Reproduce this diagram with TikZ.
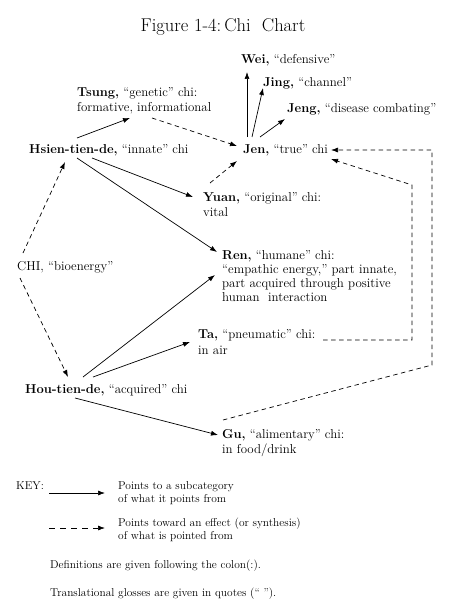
\documentclass[tikz,border=0pt]{standalone}
\usetikzlibrary{arrows.meta}
\newcommand\twoline[3][15pt]{\vtop{\baselineskip=#1\hbox{#2}\hbox{#3}}}
\begin{document}
\begin{tikzpicture}[x=1pt,y=-1pt,
  lbl/.style={anchor=base west,inner sep=0pt,font=\fontsize{12.9}{15}\selectfont},
  keytxt/.style={anchor=base west,inner sep=0pt,font=\fontsize{11.4}{13}\selectfont},
  sol/.style={line width=0.7pt,-{Latex[length=7pt,width=5pt]}},
  dsh/.style={sol,dash pattern=on 4.5pt off 3.5pt}]
\path[use as bounding box] (0,0) rectangle (450,615);
% title
\node[anchor=base,inner sep=0pt,font=\fontsize{18.5}{21}\selectfont] (title) at (223,32) {Figure 1-4:\,Chi\ \ Chart};
% nodes
\node[lbl] (wei) at (241,64) {\textbf{Wei,} “defensive”};
\node[lbl] (jing) at (263,87) {\textbf{Jing,} “channel”};
\node[lbl] (jeng) at (287,113) {\textbf{Jeng,} “disease combating”};
\node[lbl] (jen) at (243,153) {\textbf{Jen,} “true” chi};
\node[lbl] (tsung) at (77,97) {\twoline{\textbf{Tsung,} “genetic” chi:}{formative, informational}};
\node[lbl] (hsien) at (29,153) {\textbf{Hsien-tien-de,} “innate” chi};
\node[lbl] (yuan) at (203,201) {\twoline{\textbf{Yuan,} “original” chi:}{vital}};
\node[lbl] (ren) at (222,259) {\vtop{\baselineskip=14.3pt\hbox{\textbf{Ren,} “humane” chi:}\hbox{“empathic energy,” part innate,}\hbox{part acquired through positive}\hbox{human\ \ interaction}}};
\node[lbl] (chi) at (17,270) {CHI, “bioenergy”};
\node[lbl] (ta) at (198,338) {\twoline[16pt]{\textbf{Ta,} “pneumatic” chi:}{in air}};
\node[lbl] (hou) at (25,393) {\textbf{Hou-tien-de,} “acquired” chi};
\node[lbl] (gu) at (222,438) {\twoline{\textbf{Gu,} “alimentary” chi:}{in food/drink}};
% key
\node[keytxt] (key) at (16,489) {KEY:};
\node[keytxt] (k1) at (118,489) {\twoline[13pt]{Points to a subcategory}{of what it points from}};
\node[keytxt] (k2) at (118,526) {\twoline[13pt]{Points toward an effect (or synthesis)}{of what is pointed from}};
\node[keytxt] (def) at (50,568) {Definitions are given\ following the colon(:).};
\node[keytxt] (trans) at (50,596) {Translational glosses are given\ in quotes (“ ”).};
\coordinate (k1a) at (49,493);
\coordinate (k1b) at (105,493);
\coordinate (k2a) at (49,528);
\coordinate (k2b) at (105,528);
\draw[sol] (k1a) -- (k1b);
\draw[sol,dash pattern=on 6pt off 5pt] (k2a) -- (k2b);
% solid connectors
\draw[sol] ([shift={(48,-15)}]hsien.base west) -- ([shift={(53,21)}]tsung.base west);
\draw[sol] ([shift={(63,5)}]hsien.base west) -- ([shift={(-10,-4)}]yuan.base west);
\draw[sol] ([shift={(48,5)}]hsien.base west) -- ([shift={(-5,-7)}]ren.base west);
\draw[sol] ([shift={(4,-16)}]jen.base west) -- ([shift={(6,8)}]wei.base west);
\draw[sol] ([shift={(9,-16)}]jen.base west) -- ([shift={(0,1)}]jing.base west);
\draw[sol] ([shift={(17,-16)}]jen.base west) -- ([shift={(-2,6)}]jeng.base west);
\draw[sol] ([shift={(58,-16)}]hou.base west) -- ([shift={(-7,16)}]ren.base west);
\draw[sol] ([shift={(68,-16)}]hou.base west) -- ([shift={(-8,4)}]ta.base west);
\draw[sol] ([shift={(50,5)}]hou.base west) -- ([shift={(-4,-3)}]gu.base west);
% dashed connectors
\draw[dsh] ([shift={(75,21)}]tsung.base west) -- ([shift={(-6,-7)}]jen.base west);
\draw[dsh] ([shift={(7,-18)}]yuan.base west) -- ([shift={(-6,8)}]jen.base west);
\draw[dsh] ([shift={(6,-17)}]chi.base west) -- ([shift={(36,9)}]hsien.base west);
\draw[dsh] ([shift={(3,8)}]chi.base west) -- ([shift={(43,-16)}]hou.base west);
\coordinate (tacorner) at (412,185);
\coordinate (gucorner) at (432,365);
\draw[dsh] ([shift={(125,2)}]ta.base west) -| (tacorner) -- ([shift={(88,6)}]jen.base west);
\draw[dsh] ([shift={(1,-18)}]gu.base west) -- (gucorner) |- ([shift={(88,-3)}]jen.base west);
\end{tikzpicture}
\end{document}
